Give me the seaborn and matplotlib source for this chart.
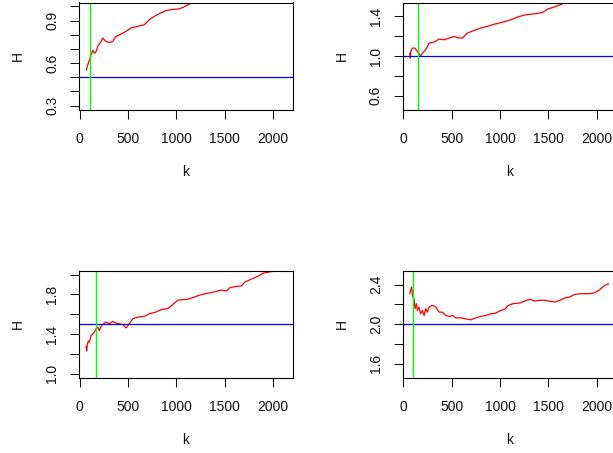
import matplotlib
matplotlib.use("Agg")
import matplotlib.pyplot as plt
import seaborn as sns
import numpy as np

# ---------------- data ----------------
# panel 1 (top-left)
k1 = [69, 83, 100, 117, 135, 152, 169, 186, 221, 238, 272, 307, 342, 376, 428, 479, 531, 600,
      670, 721, 773, 842, 894, 962, 1032, 1083, 1118, 1156, 1200, 1300, 1500, 1800, 2125]
h1 = [0.55, 0.586, 0.62, 0.657, 0.69, 0.67, 0.68, 0.717, 0.753, 0.776, 0.753, 0.745, 0.753, 0.788,
      0.805, 0.824, 0.848, 0.86, 0.871, 0.907, 0.931, 0.955, 0.971, 0.979, 0.983, 0.998, 1.012,
      1.022, 1.035, 1.06, 1.10, 1.17, 1.22]
# panel 2 (top-right)
k2 = [66, 72, 76, 93, 121, 145, 162, 179, 197, 231, 266, 318, 369, 421, 473, 525, 577, 611, 663,
      732, 800, 870, 921, 990, 1059, 1115, 1183, 1270, 1374, 1442, 1494, 1563, 1633, 1660, 1750,
      1900, 2125]
h2 = [1.029, 0.979, 1.046, 1.08, 1.08, 1.046, 1.022, 1.002, 1.029, 1.063, 1.13, 1.14, 1.171, 1.164,
      1.181, 1.197, 1.181, 1.181, 1.232, 1.258, 1.282, 1.299, 1.316, 1.333, 1.35, 1.367, 1.394,
      1.417, 1.427, 1.44, 1.475, 1.495, 1.52, 1.536, 1.56, 1.60, 1.65]
# panel 3 (bottom-left)
k3 = [66, 72, 80, 90, 100, 117, 135, 152, 169, 186, 204, 221, 238, 272, 307, 342, 376, 411, 445,
      479, 514, 549, 600, 670, 721, 790, 842, 911, 963, 1014, 1066, 1105, 1173, 1242, 1312, 1398,
      1467, 1518, 1553, 1605, 1674, 1708, 1777, 1846, 1898, 1967, 2019, 2060, 2125]
h3 = [1.28, 1.23, 1.30, 1.33, 1.317, 1.385, 1.401, 1.419, 1.453, 1.47, 1.436, 1.477, 1.497, 1.521,
      1.504, 1.528, 1.511, 1.504, 1.497, 1.463, 1.504, 1.555, 1.572, 1.579, 1.606, 1.623, 1.647,
      1.657, 1.698, 1.742, 1.749, 1.749, 1.769, 1.794, 1.81, 1.827, 1.845, 1.835, 1.868, 1.879,
      1.886, 1.925, 1.955, 1.985, 2.015, 2.028, 2.036, 2.06, 2.08]
# panel 4 (bottom-right)
k4 = [66, 76, 86, 93, 110, 121, 135, 145, 162, 179, 197, 214, 231, 248, 266, 300, 335, 369, 404,
      438, 473, 507, 542, 594, 645, 697, 749, 800, 852, 904, 956, 1007, 1049, 1084, 1135, 1204,
      1256, 1308, 1360, 1411, 1463, 1515, 1567, 1618, 1670, 1722, 1774, 1843, 1929, 1981, 2033,
      2085, 2125]
h4 = [2.308, 2.343, 2.376, 2.292, 2.258, 2.156, 2.207, 2.139, 2.173, 2.105, 2.139, 2.088, 2.156,
      2.122, 2.173, 2.19, 2.173, 2.122, 2.122, 2.088, 2.078, 2.088, 2.064, 2.064, 2.054, 2.044,
      2.064, 2.078, 2.088, 2.105, 2.112, 2.139, 2.15, 2.19, 2.207, 2.214, 2.234, 2.251, 2.234,
      2.241, 2.241, 2.231, 2.224, 2.241, 2.264, 2.275, 2.302, 2.308, 2.308, 2.318, 2.349, 2.394,
      2.408]

k_series = [k1, k2, k3, k4]
h_series = [h1, h2, h3, h4]
h_ref = [0.5, 1.0, 1.5, 2.0]          # blue horizontal lines
k_cut = [103, 156, 169, 104]          # green vertical lines
y_lims = [(0.3, 1.0), (0.5, 1.5), (1.0, 2.0), (1.5, 2.5)]
y_ticks = [[0.3, 0.4, 0.5, 0.6, 0.7, 0.8, 0.9, 1.0],
           [0.6, 0.8, 1.0, 1.2, 1.4],
           [1.0, 1.2, 1.4, 1.6, 1.8, 2.0],
           [1.6, 1.8, 2.0, 2.2, 2.4]]
y_ticklabels = [["0.3", "", "", "0.6", "", "", "0.9", ""],
                ["0.6", "", "1.0", "", "1.4"],
                ["1.0", "", "1.4", "", "1.8", ""],
                ["1.6", "", "2.0", "", "2.4"]]
x_ticks = [0, 500, 1000, 1500, 2000]
x_lim = (75, 2125)
x_label = "k"
y_label = "H"

# ---------------- figure ----------------
sns.set_style("white")
plt.rcParams["font.family"] = ["Liberation Sans", "DejaVu Sans"]

W, H = 613, 453
fig = plt.figure(figsize=(W / 100, H / 100), dpi=100)

# panel boxes in pixels: left, top, right, bottom
boxes = [(79, 2.5, 293, 109.5), (402.7, 2.5, 616.7, 109.5),
         (79, 270.7, 293, 377.7), (402.7, 270.7, 616.7, 377.7)]
ylab_x = [18, 341.7, 18, 341.7]
xlab_y = [172, 172, 440, 440]
FS = 10

def pad4(lo, hi):
    d = (hi - lo) * 0.04
    return lo - d, hi + d

for i in range(4):
    l, t, r, b = boxes[i]
    ax = fig.add_axes([l / W, (H - b) / H, (r - l) / W, (b - t) / H])
    sns.lineplot(x=k_series[i], y=h_series[i], ax=ax, color="#FF0000", lw=0.9, sort=False)
    ax.axhline(h_ref[i], color="#0000FF", lw=0.9)
    ax.axvline(k_cut[i], color="#00FF00", lw=1.0)
    ax.set_xlim(*pad4(*x_lim))
    ax.set_ylim(*pad4(*y_lims[i]))
    ax.set_xticks(x_ticks)
    ax.set_xticklabels([str(v) for v in x_ticks])
    ax.set_yticks(y_ticks[i])
    ax.set_yticklabels(y_ticklabels[i], rotation=90, va="center")
    ax.tick_params(axis="both", direction="out", length=6.3, width=0.75,
                   colors="#111111", labelsize=FS, left=True, bottom=True)
    ax.tick_params(axis="x", pad=10)
    ax.tick_params(axis="y", pad=8)
    for s in ax.spines.values():
        s.set_visible(True)
        s.set_color("black")
        s.set_linewidth(0.8)
    ax.grid(False)
    ax.set_facecolor("white")
    ax.set_xlabel(x_label, fontsize=FS, color="#111111")
    ax.set_ylabel(y_label, fontsize=FS, color="#111111")
    ax.xaxis.set_label_coords(0.5, (H - xlab_y[i] - (H - b)) / (b - t), transform=ax.transAxes)
    ax.yaxis.set_label_coords((ylab_x[i] - l) / (r - l), 0.5, transform=ax.transAxes)
    ax.xaxis.label.set_va("center")
    ax.yaxis.label.set_va("center")
    ax.yaxis.label.set_ha("center")

fig.savefig("out.png", dpi=100, facecolor="white")
